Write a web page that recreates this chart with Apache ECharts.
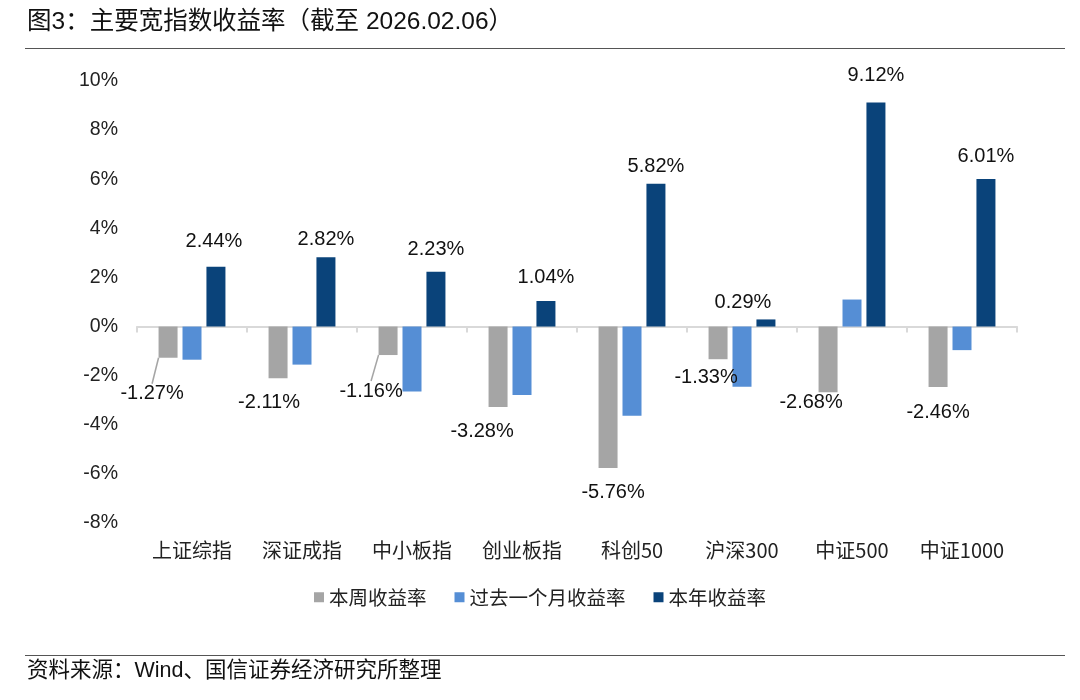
<!DOCTYPE html>
<html><head><meta charset="utf-8">
<script src="https://cdn.jsdelivr.net/npm/echarts@6/dist/echarts.min.js"></script>
<style>html,body{margin:0;padding:0;background:#fff}#c{width:1080px;height:700px}</style>
</head><body><div id="c"></div>
<script>
const categories = ['上证综指','深证成指','中小板指','创业板指','科创50','沪深300','中证500','中证1000'];
const seriesNames = ['本周收益率','过去一个月收益率','本年收益率'];
const weekly = [-1.27,-2.11,-1.16,-3.28,-5.76,-1.33,-2.68,-2.46];
const monthly = [-1.35,-1.55,-2.64,-2.79,-3.63,-2.45,1.10,-0.96];
const ytd = [2.44,2.82,2.23,1.04,5.82,0.29,9.12,6.01];
const yTicks = {min:-8, max:10, interval:2};
const titleText = '图3：主要宽指数收益率（截至 2026.02.06）';
const sourceText = '资料来源：Wind、国信证券经济研究所整理';

const chart = echarts.init(document.getElementById('c'));
const numFont = '"Liberation Sans", Arial, "Noto Sans CJK SC", sans-serif';
const cjkFont = '"Liberation Sans", Arial, "Noto Sans CJK SC", sans-serif';

// label adjustments (styling only)
const weekLayout = [[-16,14],[-9,2],[-17,14],[-16,2],[5,2],[-12,-4],[-17,-12],[0,4]];
const ytdLayout = [[-2,-3],[0,4],[0,0],[0,-2],[0,5],[-23,5],[0,-5],[0,0]];
const leaderIdx = [0,2];

chart.setOption({
  animation:false,
  textStyle:{fontFamily:numFont},
  graphic:[
    {type:'text', left:27, top:10, style:{text:titleText, font:'24.5px ' + cjkFont, fill:'#111'}},
    {type:'line', shape:{x1:25,y1:48.5,x2:1065,y2:48.5}, style:{stroke:'#555', lineWidth:1}},
    {type:'line', shape:{x1:25,y1:655.5,x2:1065,y2:655.5}, style:{stroke:'#555', lineWidth:1}},
    {type:'text', left:27, top:660, style:{text:sourceText, font:'21.5px ' + cjkFont, fill:'#111'}}
  ],
  grid:{left:137, right:63, top:81, bottom:177, containLabel:false},
  legend:{
    bottom:88, left:'center', itemWidth:10, itemHeight:10, itemGap:28,
    icon:'rect',
    textStyle:{fontSize:19.5, color:'#222', fontFamily:'"Noto Sans CJK SC", sans-serif'},
    data:seriesNames
  },
  xAxis:[
    {type:'category', data:categories, axisLine:{onZero:true, lineStyle:{color:'#D9D9D9', width:2}},
     axisTick:{show:true, length:6, lineStyle:{color:'#D9D9D9', width:2}}, axisLabel:{show:false}},
    {type:'category', data:categories, position:'bottom', axisLine:{show:false, onZero:false},
     axisTick:{show:false}, axisLabel:{margin:17, fontSize:20, color:'#222', fontFamily:'"Noto Sans CJK SC", sans-serif'}}
  ],
  yAxis:{type:'value', min:yTicks.min, max:yTicks.max, interval:yTicks.interval,
    axisLine:{show:false}, axisTick:{show:false}, splitLine:{show:false},
    axisLabel:{formatter:'{value}%', fontSize:19.5, color:'#222', margin:19}},
  series:[
    {name:seriesNames[0], type:'bar', barWidth:19, barGap:'26%',
     data:weekly.map((v,i)=>({value:v, labelLine:{show:leaderIdx.includes(i)}})),
     itemStyle:{color:'#A5A5A5'},
     label:{show:true, position:'bottom', distance:12, fontSize:20, color:'#111', formatter:p=>p.value.toFixed(2)+'%'},
     labelLine:{show:false, lineStyle:{color:'#A5A5A5', width:1.5}},
     labelLayout:p=>({dx:weekLayout[p.dataIndex][0], dy:weekLayout[p.dataIndex][1]})},
    {name:seriesNames[1], type:'bar', data:monthly, barWidth:19, barGap:'26%',
     itemStyle:{color:'#558ED5'}},
    {name:seriesNames[2], type:'bar', data:ytd, barWidth:19, barGap:'26%',
     itemStyle:{color:'#0A437A'},
     label:{show:true, position:'top', distance:12, fontSize:20, color:'#111', formatter:p=>p.value.toFixed(2)+'%'},
     labelLayout:p=>({dx:ytdLayout[p.dataIndex][0], dy:ytdLayout[p.dataIndex][1]})}
  ]
});
</script></body></html>
